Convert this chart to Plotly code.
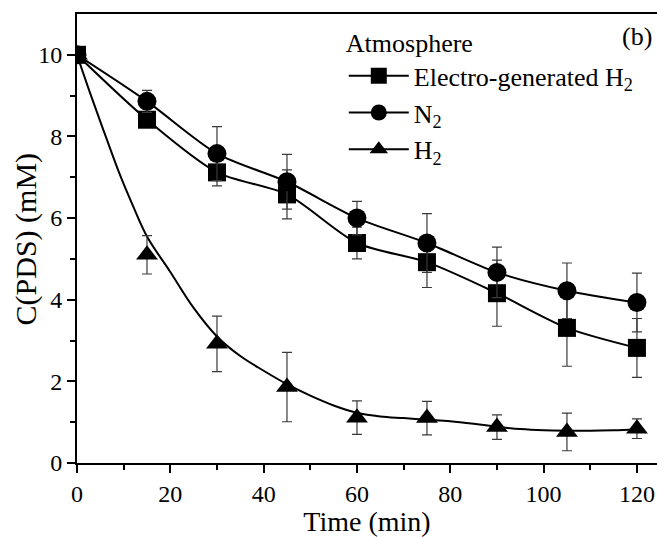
import plotly.graph_objects as go

# ---- data ----
time = [0, 15, 30, 45, 60, 75, 90, 105, 120]
c_electro = [10, 8.41, 7.12, 6.58, 5.39, 4.92, 4.16, 3.31, 2.82]
err_electro = [0, 0.15, 0.33, 0.60, 0.39, 0.62, 0.81, 0.94, 0.72]
c_n2 = [10, 8.86, 7.58, 6.89, 6.00, 5.39, 4.67, 4.22, 3.93]
err_n2 = [0, 0.27, 0.66, 0.67, 0.41, 0.72, 0.62, 0.68, 0.72]
c_h2 = [10, 5.10, 2.92, 1.86, 1.11, 1.10, 0.88, 0.76, 0.84]
err_h2 = [0, 0.47, 0.68, 0.85, 0.41, 0.41, 0.30, 0.46, 0.24]

# fitted curve for H2 atmosphere
fit_time = [0, 3, 6, 9, 12, 15, 20, 25, 30, 35, 40, 45, 50, 55, 60, 65, 70,
            75, 80, 85, 90, 95, 100, 105, 110, 115, 120]
fit_h2 = [10, 9.0, 8.05, 7.12, 6.3, 5.55, 4.68, 3.8, 3.1, 2.62, 2.26, 1.93,
          1.65, 1.41, 1.23, 1.14, 1.10, 1.06, 1.02, 0.96, 0.89, 0.83, 0.80,
          0.79, 0.79, 0.80, 0.82]

names = ["Electro-generated H<sub>2</sub>", "N<sub>2</sub>", "H<sub>2</sub>"]

FONT = "Liberation Serif"
ERR_COLOR = "#3a3a3a"

def err(vals):
    return dict(type="data", array=vals, visible=True, color=ERR_COLOR,
                thickness=1.2, width=5)

fig = go.Figure()

fig.add_trace(go.Scatter(
    x=time, y=c_electro, mode="lines+markers", name=names[0],
    line=dict(color="black", width=2, shape="spline", smoothing=0.8),
    marker=dict(symbol="square", size=18, color="black"),
    error_y=err(err_electro)))

fig.add_trace(go.Scatter(
    x=time, y=c_n2, mode="lines+markers", name=names[1],
    line=dict(color="black", width=2, shape="spline", smoothing=0.8),
    marker=dict(symbol="circle", size=19, color="black"),
    error_y=err(err_n2)))

fig.add_trace(go.Scatter(
    x=fit_time, y=fit_h2, mode="lines", showlegend=False,
    line=dict(color="black", width=2, shape="spline", smoothing=1.0)))

fig.add_trace(go.Scatter(
    x=time, y=c_h2, mode="markers", showlegend=False,
    marker=dict(symbol="triangle-up", size=19, color="black"),
    error_y=err(err_h2)))

# legend-only entry for the H2 series (line + marker)
fig.add_trace(go.Scatter(
    x=[None], y=[None], mode="lines+markers", name=names[2],
    line=dict(color="black", width=2),
    marker=dict(symbol="triangle-up", size=19, color="black")))

fig.update_layout(
    width=657, height=537,
    margin=dict(l=77, r=0, t=14, b=74),
    paper_bgcolor="white", plot_bgcolor="white",
    font=dict(family=FONT, color="black", size=24),
    showlegend=True,
    legend=dict(
        title=dict(text="Atmosphere", font=dict(size=26, family=FONT)),
        font=dict(size=26, family=FONT),
        x=0.46, y=0.99, xanchor="left", yanchor="top",
        bgcolor="rgba(0,0,0,0)", borderwidth=0,
        itemwidth=60, tracegroupgap=0),
    annotations=[
        dict(text="(b)", xref="paper", yref="paper",
             x=0.995, y=0.95, xanchor="right", yanchor="middle",
             showarrow=False, font=dict(size=26, family=FONT)),
        dict(text="C(PDS) (mM)", xref="paper", yref="paper",
             x=-0.088, y=0.5, xanchor="center", yanchor="middle",
             textangle=-90, showarrow=False,
             font=dict(size=30, family=FONT)),
    ],
)

fig.update_xaxes(
    range=[0, 124.3], tickmode="array", tickvals=[0, 20, 40, 60, 80, 100, 120],
    ticks="outside", ticklen=8, tickwidth=2, tickcolor="black",
    minor=dict(tickvals=[10, 30, 50, 70, 90, 110], ticks="outside",
               ticklen=5, tickwidth=2, tickcolor="black"),
    showline=True, linewidth=2, linecolor="black", mirror=True,
    showgrid=False, zeroline=False,
    tickfont=dict(size=24, family=FONT),
    title=dict(text="Time (min)", font=dict(size=28, family=FONT), standoff=6))

fig.update_yaxes(
    range=[0, 11], tickmode="array", tickvals=[0, 2, 4, 6, 8, 10],
    ticks="outside", ticklen=8, tickwidth=2, tickcolor="black",
    minor=dict(tickvals=[1, 3, 5, 7, 9], ticks="outside",
               ticklen=5, tickwidth=2, tickcolor="black"),
    showline=True, linewidth=2, linecolor="black", mirror=False,
    showgrid=False, zeroline=False,
    tickfont=dict(size=24, family=FONT))

fig.write_html("out.html")
